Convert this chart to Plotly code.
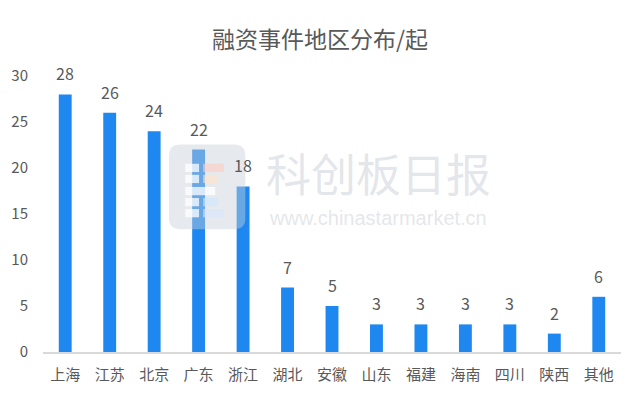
import plotly.graph_objects as go

regions = ["上海", "江苏", "北京", "广东", "浙江", "湖北", "安徽", "山东", "福建", "海南", "四川", "陕西", "其他"]
counts = [28, 26, 24, 22, 18, 7, 5, 3, 3, 3, 3, 2, 6]
y_ticks = [0, 5, 10, 15, 20, 25, 30]

FONT = "Noto Sans CJK SC"
GREY = "#595959"

fig = go.Figure()
fig.add_trace(
    go.Bar(
        x=regions,
        y=counts,
        marker_color="#1E88F0",
        marker_line_width=0,
        hoverinfo="x+y",
    )
)

# value labels above each bar
for r, c in zip(regions, counts):
    fig.add_annotation(
        x=r, y=c, text=str(c), showarrow=False,
        yanchor="bottom", yshift=7,
        font=dict(size=16, color=GREY, family=FONT),
    )

# watermark: logo block + site name (drawn on top, semi transparent)
def rounded(x0, y0, x1, y1, rx, ry):
    return (f"M {x0+rx},{y0} L {x1-rx},{y0} Q {x1},{y0} {x1},{y0+ry} "
            f"L {x1},{y1-ry} Q {x1},{y1} {x1-rx},{y1} L {x0+rx},{y1} "
            f"Q {x0},{y1} {x0},{y1-ry} L {x0},{y0+ry} Q {x0},{y0} {x0+rx},{y0} Z")

fig.add_shape(
    type="path", xref="paper", yref="paper",
    path=rounded(0.218, 0.445, 0.35, 0.752, 0.02, 0.04),
    fillcolor="rgba(200,206,214,0.45)", line_width=0, layer="above",
)
logo_rows = [
    (0.652, 0.313, "rgba(255,205,195,0.6)"),
    (0.612, 0.303, "rgba(255,228,200,0.6)"),
    (0.568, 0.0, "rgba(255,255,255,0.75)"),
    (0.528, 0.303, "rgba(205,232,255,0.6)"),
    (0.488, 0.313, "rgba(215,230,255,0.6)"),
]
for yy, x_end, col in logo_rows:
    if x_end == 0.0:
        fig.add_shape(type="rect", xref="paper", yref="paper", x0=0.246, x1=0.298,
                      y0=yy, y1=yy + 0.03, fillcolor=col, line_width=0, layer="above")
        continue
    fig.add_shape(type="rect", xref="paper", yref="paper", x0=0.246, x1=0.27,
                  y0=yy, y1=yy + 0.03, fillcolor="rgba(255,255,255,0.75)",
                  line_width=0, layer="above")
    fig.add_shape(type="rect", xref="paper", yref="paper", x0=0.277, x1=x_end,
                  y0=yy, y1=yy + 0.03, fillcolor=col, line_width=0, layer="above")

wm = "rgba(175,184,194,0.35)"
fig.add_annotation(
    text="科创板日报", xref="paper", yref="paper", x=0.58, y=0.652,
    showarrow=False, font=dict(size=45, color=wm, family=FONT),
)
fig.add_annotation(
    text="www.chinastarmarket.cn", xref="paper", yref="paper", x=0.58, y=0.486,
    showarrow=False, font=dict(size=20, color=wm, family="Liberation Sans"),
)

fig.update_layout(
    width=640,
    height=400,
    paper_bgcolor="white",
    plot_bgcolor="white",
    showlegend=False,
    bargap=0.71,
    margin=dict(l=35, r=27, t=68, b=56),
    title=dict(
        text="融资事件地区分布/起",
        x=0.4875,
        xanchor="center",
        y=0.92,
        yanchor="middle",
        font=dict(size=23, color=GREY, family=FONT),
    ),
    font=dict(family=FONT, color=GREY),
    xaxis=dict(
        showline=True,
        linecolor="#D9D9D9",
        linewidth=2,
        showgrid=False,
        ticks="",
        tickfont=dict(size=15, color=GREY),
        ticklabelstandoff=8,
        automargin=False,
    ),
    yaxis=dict(
        range=[0, 30],
        tickvals=y_ticks,
        showgrid=False,
        zeroline=False,
        showline=False,
        tickfont=dict(size=15, color=GREY),
        ticklabelstandoff=14,
        automargin=False,
    ),
)

fig.write_html("out.html")
